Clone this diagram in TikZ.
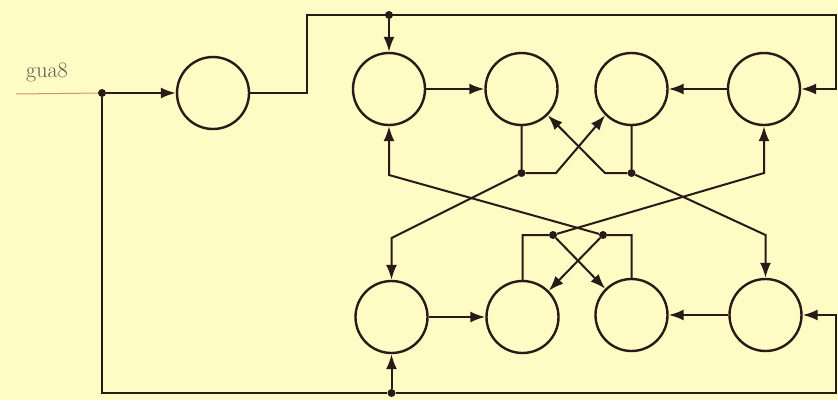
\documentclass[tikz,border=0pt]{standalone}
\usetikzlibrary{calc}
\usetikzlibrary{arrows.meta}
\usepackage{xcolor}
\definecolor{paper}{RGB}{255,251,196}
\definecolor{ink}{RGB}{40,26,22}
\definecolor{faint}{RGB}{205,150,110}

\begin{document}
\begin{tikzpicture}[x=1pt,y=-1pt,
  cell/.style={circle,draw=ink,line width=2.4pt,minimum size=72pt,inner sep=0pt},
  wire/.style={draw=ink,line width=2pt},
  arr/.style={wire,-{Latex[length=15pt,width=11pt]}},
  jdot/.style={circle,fill=ink,inner sep=0pt,minimum size=8pt}]
\fill[paper] (0,0) rectangle (838,400);
\useasboundingbox (0,0) rectangle (838,400);

% cells
\node[cell] (in) at (213,93) {};
\node[cell] (t1) at (389,89) {};
\node[cell] (t2) at (521.5,89) {};
\node[cell] (t3) at (631.5,89) {};
\node[cell] (t4) at (764,89) {};
\node[cell] (b1) at (391.5,317) {};
\node[cell] (b2) at (522.5,317) {};
\node[cell] (b3) at (631.5,315) {};
\node[cell] (b4) at (765.5,315) {};

% label and junctions
\node[text=ink!75,font=\fontsize{22}{22}\selectfont] (lbl) at (47,72) {gua8};
\coordinate (inp) at (16,94);
\node[jdot] (jin) at (102,93) {};
\node[jdot] (jtop) at (389,15) {};
\node[jdot] (jbot) at (391.5,393) {};
\node[jdot] (t2d) at (521.5,173) {};
\node[jdot] (t3d) at (631.5,173) {};
\node[jdot] (b2d) at (553,235) {};
\node[jdot] (b3d) at (603,235) {};
\coordinate (ttl) at (307,15);
\coordinate (tr) at (836,15);
\coordinate (br) at (836,393);
\coordinate (t2k) at (556,173);
\coordinate (t3k) at (605,173);
\coordinate (t1k) at (389,175);
\coordinate (t4k) at (764,173);
\coordinate (b1k) at (391.5,238);
\coordinate (b4k) at (765.5,235);

% outer loops
\draw[faint,line width=1pt] (inp) -- (jin);
\draw[arr] (jin) -- (in.west);
\draw[wire] (jin) |- (jbot);
\draw[arr] (jbot) -- (br) |- (b4.east);
\draw[arr] (jbot) -- (b1.south);
\draw[arr] (in.east) -| (ttl) -- (tr) |- (t4.east);
\draw[arr] (jtop) -- (t1.north);

% rows
\draw[arr] (t1) -- (t2);
\draw[arr] (t4) -- (t3);
\draw[arr] (b1) -- (b2);
\draw[arr] (b4) -- (b3);

% cross links
\draw[arr] (t2.south) -- (t2d) -- (t2k) -- (t3.south west);
\draw[arr] (t3.south) -- (t3d) -- (t3k) -- (t2.south east);
\draw[arr] (b2.north) |- (b2d) -- (b3.north west);
\draw[arr] (b3.north) |- (b3d) -- (b2.north east);
\draw[arr] (t2d) -- (b1k) -- (b1.north);
\draw[arr] (t3d) -- (b4k) -- (b4.north);
\draw[arr] (b3d) -- (t1k) -- (t1.south);
\draw[arr] (b2d) -- (t4k) -- (t4.south);

\end{tikzpicture}
\end{document}
